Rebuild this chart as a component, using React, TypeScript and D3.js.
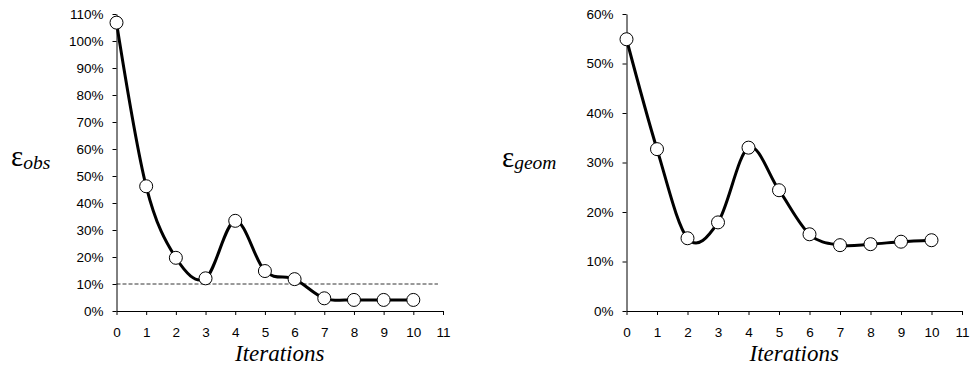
import React from 'react';
import * as d3 from 'd3';

const iterations = [0, 1, 2, 3, 4, 5, 6, 7, 8, 9, 10];
const obsValues = [106.8, 46.2, 19.7, 12.1, 33.4, 14.8, 11.8, 4.7, 4.1, 4.1, 4.1];
const geomValues = [54.9, 32.7, 14.7, 17.9, 33.0, 24.4, 15.5, 13.3, 13.5, 14.0, 14.3];
const xTicks = [0, 1, 2, 3, 4, 5, 6, 7, 8, 9, 10, 11];
const obsTicks = [0, 10, 20, 30, 40, 50, 60, 70, 80, 90, 100, 110];
const geomTicks = [0, 10, 20, 30, 40, 50, 60];
const threshold = 10;

const SANS = "'Liberation Sans', Arial, sans-serif";
const SERIF = "'Liberation Serif', 'Times New Roman', serif";

function Panel({ left, right, top, bottom, values, yMax, yTicks, sub, labelX, labelY, subDy, dashed }) {
  const ref = React.useRef(null);

  React.useEffect(() => {
    const g = d3.select(ref.current);
    g.selectAll('*').remove();

    const x = d3.scaleLinear().domain([0, 11]).range([left, right]);
    const y = d3.scaleLinear().domain([0, yMax]).range([bottom, top]);

    // y axis
    const yAxis = g
      .append('g')
      .attr('transform', `translate(${left},0)`)
      .call(d3.axisLeft(y).tickValues(yTicks).tickSize(4).tickSizeOuter(0).tickPadding(9).tickFormat((d) => `${d}%`));
    yAxis.attr('font-family', SANS).attr('font-size', 13.5);
    yAxis.select('.domain').attr('stroke', '#000');
    yAxis.selectAll('line').attr('stroke', '#000');
    yAxis.selectAll('text').attr('fill', '#000');

    // x axis
    const xAxis = g
      .append('g')
      .attr('transform', `translate(0,${bottom})`)
      .call(d3.axisBottom(x).tickValues(xTicks).tickSize(4).tickSizeOuter(0).tickPadding(12).tickFormat(d3.format('d')));
    xAxis.attr('font-family', SANS).attr('font-size', 13.5);
    xAxis.select('.domain').attr('stroke', '#000');
    xAxis.selectAll('line').attr('stroke', '#000');
    xAxis.selectAll('text').attr('fill', '#000');

    // threshold line
    if (dashed) {
      g.append('line')
        .attr('x1', x(0))
        .attr('x2', x(10.83))
        .attr('y1', y(threshold))
        .attr('y2', y(threshold))
        .attr('stroke', '#000')
        .attr('stroke-width', 0.8)
        .attr('stroke-dasharray', '4,2');
    }

    const pts = iterations.map((it, i) => [it, values[i]]);
    const line = d3
      .line()
      .x((d) => x(d[0]))
      .y((d) => y(d[1]))
      .curve(d3.curveCardinal.tension(0));

    g.append('path')
      .attr('d', line(pts))
      .attr('fill', 'none')
      .attr('stroke', '#000')
      .attr('stroke-width', 3)
      .attr('stroke-linejoin', 'round');

    g.selectAll('.dot')
      .data(pts)
      .enter()
      .append('circle')
      .attr('cx', (d) => x(d[0]))
      .attr('cy', (d) => y(d[1]))
      .attr('r', 6.5)
      .attr('fill', '#fff')
      .attr('stroke', '#000')
      .attr('stroke-width', 1);

    // axis titles
    g.append('text')
      .attr('x', (left + right) / 2)
      .attr('y', bottom + 50)
      .attr('text-anchor', 'middle')
      .style('font-family', SERIF)
      .style('font-style', 'italic')
      .style('font-size', '23px')
      .attr('fill', '#000')
      .text('Iterations');

    const lbl = g
      .append('text')
      .attr('x', labelX)
      .attr('y', labelY)
      .style('font-family', SERIF)
      .attr('fill', '#000');
    lbl.append('tspan').style('font-size', '29px').text('ε');
    lbl.append('tspan').style('font-size', '19.5px').style('font-style', 'italic').attr('dy', subDy).text(sub);
  }, [left, right, top, bottom, values, yMax, yTicks, sub, labelX, labelY, subDy, dashed]);

  return <g ref={ref}></g>;
}

export default function App() {
  return (
    <svg width={970} height={367} style={{ position: 'absolute', left: 0, top: 0, background: '#fff' }}>
      <Panel left={116.5} right={443} top={14} bottom={311} values={obsValues} yMax={110} yTicks={obsTicks} sub="obs" labelX={11} labelY={166} subDy={3} dashed={true} />
      <Panel left={626.5} right={962} top={14} bottom={311} values={geomValues} yMax={60} yTicks={geomTicks} sub="geom" labelX={502} labelY={166.5} subDy={2} dashed={false} />
    </svg>
  );
}
